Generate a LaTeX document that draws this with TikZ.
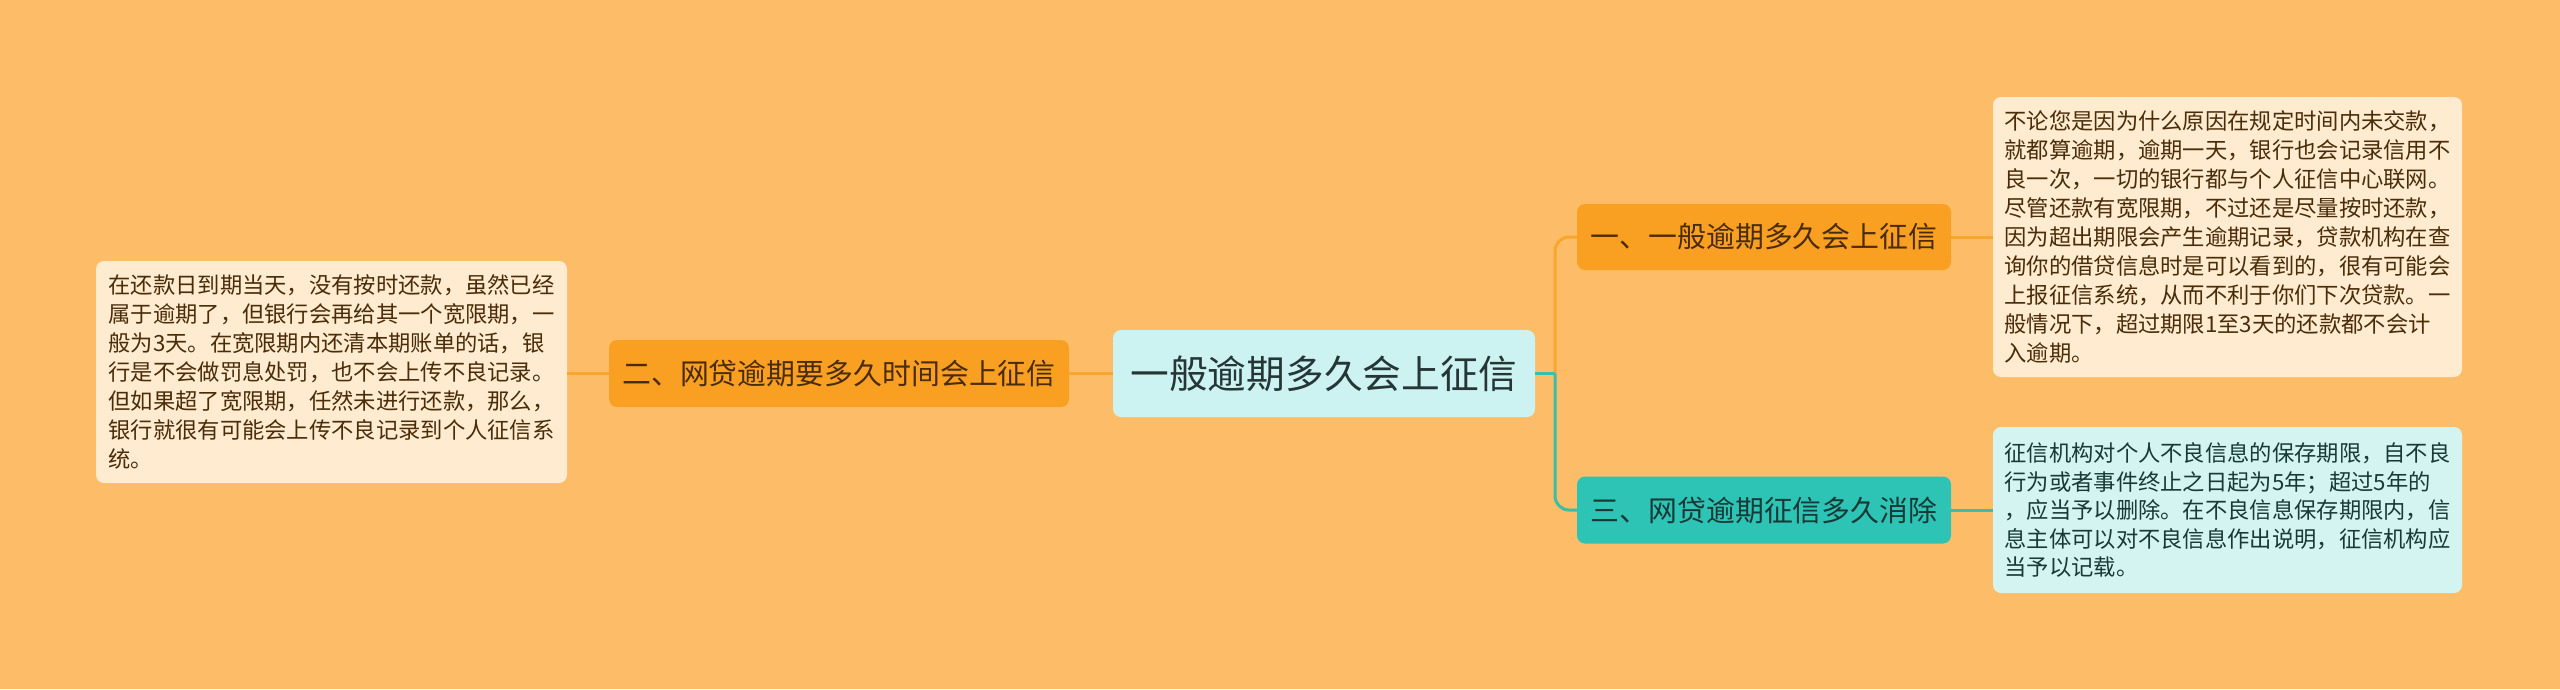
\documentclass[tikz,border=0pt]{standalone}
\usepackage{fontspec}
\newfontfamily\cjk{Noto Sans CJK SC}
\definecolor{bgc}{HTML}{FDBD68}
\definecolor{orn}{HTML}{F9A023}
\definecolor{tea}{HTML}{2EC4B5}
\definecolor{cen}{HTML}{CCF3F1}
\definecolor{crm}{HTML}{FEEBD0}
\definecolor{cya}{HTML}{D3F4F1}
\definecolor{ornline}{HTML}{F9A62E}
\definecolor{tealine}{HTML}{38BFAA}
\definecolor{brn}{HTML}{4A2C08}
\definecolor{dtl}{HTML}{173A36}
\definecolor{cgr}{HTML}{263636}
\tikzset{
  base/.style={rounded corners=8pt, inner sep=0pt, anchor=center},
  central/.style={base, fill=cen, text=cgr, font=\fontsize{38.7pt}{44pt}\selectfont\cjk},
  ornnode/.style={base, fill=orn, text=brn, font=\fontsize{28.9pt}{34pt}\selectfont\cjk},
  teanode/.style={base, fill=tea, text=dtl, font=\fontsize{28.9pt}{34pt}\selectfont\cjk},
  leafo/.style={base, fill=crm, text=brn, align=left, font=\fontsize{22.3pt}{29pt}\selectfont\cjk},
  leaft/.style={base, fill=cya, text=dtl, align=left, font=\fontsize{22.3pt}{28.5pt}\selectfont\cjk},
  oline/.style={draw=ornline, line width=3pt},
  tline/.style={draw=tealine, line width=3pt},
}
\begin{document}
\begin{tikzpicture}[x=1pt,y=-1pt]
\fill[bgc] (0,0) rectangle (2560,689);
\useasboundingbox (0,0) rectangle (2560,689);
\node[central, minimum width=422pt, minimum height=87pt] (c) at (1324,373.5) {一般逾期多久会上征信};
\node[ornnode, minimum width=460pt, minimum height=67pt] (ln) at (839,373.5) {二、网贷逾期要多久时间会上征信};
\node[leafo, minimum width=471pt, minimum height=222pt] (ll) at (331.5,372) {在还款日到期当天，没有按时还款，虽然已经\\属于逾期了，但银行会再给其一个宽限期，一\\般为3天。在宽限期内还清本期账单的话，银\\行是不会做罚息处罚，也不会上传不良记录。\\但如果超了宽限期，任然未进行还款，那么，\\银行就很有可能会上传不良记录到个人征信系\\统。};
\node[ornnode, minimum width=374pt, minimum height=66pt] (tn) at (1764,237) {一、一般逾期多久会上征信};
\node[teanode, minimum width=374pt, minimum height=67pt] (bn) at (1764,510) {三、网贷逾期征信多久消除};
\node[leafo, minimum width=469pt, minimum height=280pt] (tl) at (2227.5,237) {不论您是因为什么原因在规定时间内未交款，\\就都算逾期，逾期一天，银行也会记录信用不\\良一次，一切的银行都与个人征信中心联网。\\尽管还款有宽限期，不过还是尽量按时还款，\\因为超出期限会产生逾期记录，贷款机构在查\\询你的借贷信息时是可以看到的，很有可能会\\上报征信系统，从而不利于你们下次贷款。一\\般情况下，超过期限1至3天的还款都不会计\\入逾期。};
\node[leaft, minimum width=469pt, minimum height=166pt] (bl) at (2227.5,510) {征信机构对个人不良信息的保存期限，自不良\\行为或者事件终止之日起为5年；超过5年的\\，应当予以删除。在不良信息保存期限内，信\\息主体可以对不良信息作出说明，征信机构应\\当予以记载。};
\coordinate (j) at (1555,373.5);
\draw[oline, rounded corners=14pt] (j) |- (tn.west);
\draw[tline] (c.east) -- (j);
\draw[tline, rounded corners=14pt] (j) |- (bn.west);
\draw[oline] (tn.east) -- (tl.west |- tn.east);
\draw[tline] (bn.east) -- (bl.west |- bn.east);
\draw[oline] (c.west) -- (ln.east);
\draw[oline] (ln.west) -- (ll.east |- ln.west);
\end{tikzpicture}
\end{document}
